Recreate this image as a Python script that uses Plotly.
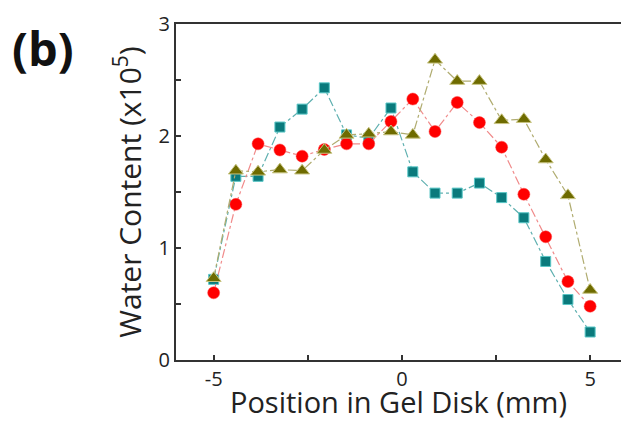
import plotly.graph_objects as go

positions = [-5.0, -4.41, -3.82, -3.24, -2.65, -2.06, -1.47, -0.88, -0.29,
             0.29, 0.88, 1.47, 2.06, 2.65, 3.24, 3.82, 4.41, 5.0]
squares = [0.72, 1.64, 1.64, 2.08, 2.24, 2.43, 2.01, 1.98, 2.25,
           1.68, 1.49, 1.49, 1.58, 1.45, 1.27, 0.88, 0.54, 0.25]
circles = [0.60, 1.39, 1.93, 1.875, 1.82, 1.88, 1.93, 1.93, 2.13,
           2.33, 2.04, 2.30, 2.12, 1.90, 1.48, 1.10, 0.70, 0.48]
triangles = [0.73, 1.69, 1.68, 1.70, 1.69, 1.875, 2.01, 2.02, 2.04,
             2.01, 2.68, 2.49, 2.49, 2.14, 2.15, 1.79, 1.47, 0.625]

x_ticks = [-5, 0, 5]
y_ticks = [0, 1, 2, 3]

FONT = "Open Sans"

fig = go.Figure()
fig.add_trace(go.Scatter(
    x=positions, y=squares, mode="lines+markers",
    line=dict(color="#5fb0b0", width=1.2, dash="dashdot"),
    marker=dict(symbol="square", size=10, color="#0a7a7c",
                line=dict(color="#59c6c6", width=1)),
    showlegend=False))
fig.add_trace(go.Scatter(
    x=positions, y=circles, mode="lines+markers",
    line=dict(color="#f08a8a", width=1.2, dash="dashdot"),
    marker=dict(symbol="circle", size=12, color="#ff0000",
                line=dict(color="#ff4040", width=0.5)),
    showlegend=False))
fig.add_trace(go.Scatter(
    x=positions, y=triangles, mode="lines+markers",
    line=dict(color="#b0ac70", width=1.2, dash="dashdot"),
    marker=dict(symbol="triangle-up", size=13, color="#6e6b00",
                line=dict(color="#c8c480", width=1)),
    showlegend=False))

fig.update_layout(
    width=621, height=421,
    margin=dict(l=176, r=0, t=24, b=61),
    plot_bgcolor="white", paper_bgcolor="white",
    font=dict(family=FONT, color="#222222"),
    xaxis=dict(
        range=[-6, 5.82], tickvals=x_ticks, ticktext=[str(v) for v in x_ticks],
        ticks="inside", ticklen=5, tickwidth=1.5, tickcolor="#333333",
        minor=dict(dtick=2.5, tick0=0, ticks="inside", ticklen=5, tickwidth=1.5, tickcolor="#333333"),
        showline=True, linecolor="#333333", linewidth=2, mirror=True,
        showgrid=False, zeroline=False,
        tickfont=dict(size=20, family=FONT, color="#222222"),
        title=dict(text="Position in Gel Disk (mm)", font=dict(size=29, family=FONT, color="#222222"), standoff=4),
    ),
    yaxis=dict(
        range=[0, 3], tickvals=y_ticks, ticktext=[str(v) for v in y_ticks],
        ticks="inside", ticklen=5, tickwidth=1.5, tickcolor="#333333",
        minor=dict(dtick=0.5, tick0=0, ticks="inside", ticklen=5, tickwidth=1.5, tickcolor="#333333"),
        showline=True, linecolor="#333333", linewidth=2, mirror=False,
        showgrid=False, zeroline=False,
        tickfont=dict(size=20, family=FONT, color="#222222"),
        title=dict(text="Water Content (x10<sup>5</sup>)", font=dict(size=30, family=FONT, color="#222222"), standoff=8),
    ),
    annotations=[dict(
        text="<b>(b)</b>", xref="paper", yref="paper",
        x=(10 - 176) / 445, y=1 + (24 - 14) / 336,
        showarrow=False, xanchor="left", yanchor="top",
        font=dict(size=47, family=FONT, color="#111111"))],
)

fig.write_html("out.html")
